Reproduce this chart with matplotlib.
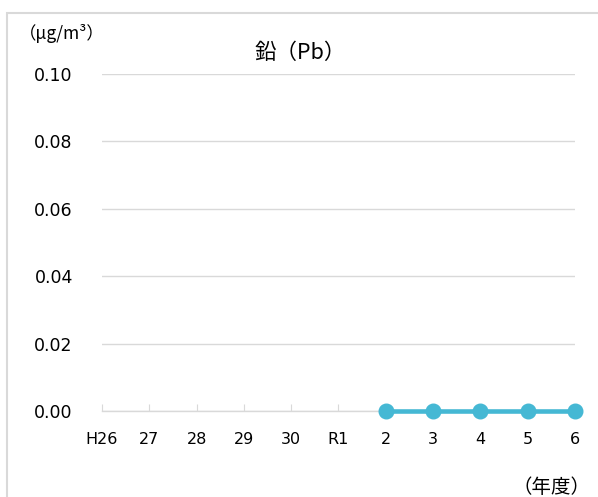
import matplotlib
matplotlib.use("Agg")
import matplotlib.pyplot as plt
from matplotlib.patches import Rectangle

plt.rcParams['font.family'] = ['Noto Sans CJK JP', 'DejaVu Sans']

# data
years = ['H26', '27', '28', '29', '30', 'R1', '2', '3', '4', '5', '6']
pb_years = ['2', '3', '4', '5', '6']
pb_values = [0.000, 0.000, 0.000, 0.000, 0.000]
y_ticks = [0.00, 0.02, 0.04, 0.06, 0.08, 0.10]

line_color = '#45B8D4'
grid_color = '#D9D9D9'

fig = plt.figure(figsize=(5.98, 4.97), dpi=100)
ax = fig.add_axes([0.1706, 0.173, 0.7909, 0.678])

xpos = [years.index(y) for y in pb_years]
ax.plot(xpos, pb_values, color=line_color, lw=3.3, marker='o', ms=10.5,
        clip_on=False, zorder=3)

ax.set_xlim(0, len(years) - 1)
ax.set_ylim(0, 0.10)
ax.set_xticks(range(len(years)))
ax.set_xticklabels(years, family='DejaVu Sans')
ax.set_yticks(y_ticks)
ax.set_yticklabels([f'{v:.2f}' for v in y_ticks], family='DejaVu Sans')

ax.grid(axis='y', color=grid_color, lw=1)
ax.set_axisbelow(True)
for s in ['top', 'right', 'left']:
    ax.spines[s].set_visible(False)
ax.spines['bottom'].set_color(grid_color)
ax.spines['bottom'].set_linewidth(1)
ax.tick_params(axis='y', length=0, pad=21, labelsize=12.5, labelcolor='#000000')
ax.tick_params(axis='x', direction='in', length=5, color=grid_color,
               pad=15, labelsize=11.5)

fig.text(0.502, 0.893, '鉛（Pb）', ha='center', va='center', fontsize=15.5)
fig.text(0.032, 0.933, '（μg/m³）', ha='left', va='center', fontsize=12.5)
fig.text(0.988, 0.02, '（年度）', ha='right', va='center', fontsize=14)

# outer frame
fig.patches.append(Rectangle((7 / 598, -0.05), 1.0, 1 - 13 / 497 + 0.05,
                             transform=fig.transFigure, fill=False,
                             edgecolor='#D9D9D9', lw=1.5))

fig.savefig('out.png', dpi=100)
